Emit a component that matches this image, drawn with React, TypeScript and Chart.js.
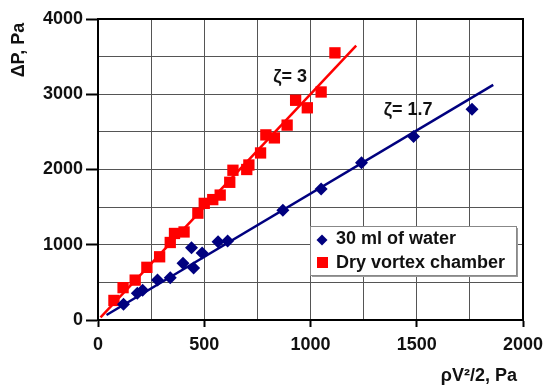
import { useEffect, useRef } from "react";
import { Chart, registerables } from "chart.js";
Chart.register(...registerables);

const dryX = [75, 118, 175, 230, 290, 340, 360, 405, 470, 500, 540, 575, 620, 635, 700, 710, 765, 790, 830, 890, 930, 985, 1050, 1115];
const dryY = [260, 430, 530, 700, 840, 1030, 1150, 1170, 1420, 1550, 1600, 1660, 1830, 1990, 2000, 2060, 2220, 2460, 2420, 2590, 2920, 2820, 3030, 3550];
const waterX = [120, 185, 210, 280, 340, 400, 440, 450, 490, 565, 610, 870, 1050, 1240, 1485, 1760];
const waterY = [210, 355, 395, 530, 560, 755, 960, 690, 890, 1040, 1050, 1460, 1740, 2090, 2440, 2800];
const dryFitX = [12, 1215];
const dryFitY = [36, 3645];
const waterFitX = [40, 1860];
const waterFitY = [67, 3125];
const xTicks = [0, 500, 1000, 1500, 2000];
const yTicks = [0, 1000, 2000, 3000, 4000];
const legendLabels = ["30 ml of water", "Dry vortex chamber"];
const annotations = [
  { text: "ζ= 3", x: 904, y: 3227 },
  { text: "ζ= 1.7", x: 1459, y: 2789 },
];

const FONT = "'Liberation Sans', Arial, sans-serif";
const NAVY = "#00007f";
const RED = "#ff0000";
const GRID = "#555";

const pts = (xs: number[], ys: number[]) => xs.map((x, i) => ({ x, y: ys[i] }));

const overlay = {
  id: "overlay",
  beforeDatasetsDraw(chart: any) {
    const { ctx, chartArea: a } = chart;
    ctx.save();
    ctx.strokeStyle = "#000";
    ctx.lineWidth = 2;
    ctx.strokeRect(a.left, a.top, a.right - a.left, a.bottom - a.top);
    ctx.restore();
  },
  afterDraw(chart: any) {
    const { ctx, chartArea: a, scales } = chart;
    ctx.save();
    ctx.fillStyle = "#111";
    ctx.font = `bold 18px ${FONT}`;
    ctx.textAlign = "center";
    ctx.textBaseline = "middle";
    for (const an of annotations) {
      ctx.fillText(an.text, scales.x.getPixelForValue(an.x), scales.y.getPixelForValue(an.y));
    }
    ctx.font = `bold 18px ${FONT}`;
    ctx.save();
    ctx.translate(19, 50);
    ctx.rotate(-Math.PI / 2);
    ctx.fillText("ΔP, Pa", 0, 0);
    ctx.restore();
    ctx.textAlign = "right";
    ctx.fillText("ρV²/2, Pa", 517, 376);
    // legend
    const lx = a.left + 212;
    const ly = a.top + 207;
    const lw = 206;
    const lh = 49;
    ctx.fillStyle = "#999";
    ctx.fillRect(lx + 2, ly + 2, lw, lh);
    ctx.fillStyle = "#fff";
    ctx.fillRect(lx, ly, lw, lh);
    ctx.strokeStyle = "#888";
    ctx.lineWidth = 1;
    ctx.strokeRect(lx + 0.5, ly + 0.5, lw, lh);
    const dx = lx + 12, dy = ly + 14;
    ctx.fillStyle = NAVY;
    ctx.beginPath();
    ctx.moveTo(dx, dy - 5.5);
    ctx.lineTo(dx + 5.5, dy);
    ctx.lineTo(dx, dy + 5.5);
    ctx.lineTo(dx - 5.5, dy);
    ctx.closePath();
    ctx.fill();
    ctx.fillStyle = RED;
    ctx.fillRect(lx + 7, ly + 31, 11, 11);
    ctx.fillStyle = "#111";
    ctx.textAlign = "left";
    ctx.font = `bold 18px ${FONT}`;
    ctx.fillText(legendLabels[0], lx + 26, ly + 13);
    ctx.fillText(legendLabels[1], lx + 26, ly + 37);
    ctx.restore();
  },
};

export default function App() {
  const ref = useRef<HTMLCanvasElement>(null);
  useEffect(() => {
    if (!ref.current) return;
    const tickFont = { family: FONT, size: 18, weight: "bold" as const };
    const chart = new Chart(ref.current, {
      type: "scatter",
      data: {
        datasets: [
          {
            type: "line",
            label: "fit3",
            data: pts(dryFitX, dryFitY),
            borderColor: RED,
            borderWidth: 2.5,
            pointRadius: 0,
            order: 0,
          } as any,
          {
            type: "line",
            label: "fit17",
            data: pts(waterFitX, waterFitY),
            borderColor: NAVY,
            borderWidth: 2.5,
            pointRadius: 0,
            order: 0,
          } as any,
          {
            label: legendLabels[0],
            data: pts(waterX, waterY),
            pointStyle: "rectRot",
            pointRadius: 6.5,
            backgroundColor: NAVY,
            borderColor: NAVY,
            borderWidth: 0,
            order: 1,
          },
          {
            label: legendLabels[1],
            data: pts(dryX, dryY),
            pointStyle: "rect",
            pointRadius: 8,
            backgroundColor: RED,
            borderColor: RED,
            borderWidth: 0,
            order: 1,
          },
        ],
      },
      options: {
        animation: false,
        responsive: true,
        maintainAspectRatio: false,
        layout: { padding: { top: 19, right: 21, left: 0, bottom: 0 } },
        plugins: { legend: { display: false }, tooltip: { enabled: false } },
        scales: {
          x: {
            type: "linear",
            min: 0,
            max: 2000,
            afterBuildTicks: (s: any) => { s.ticks = xTicks.map((v) => ({ value: v })); },
            ticks: { font: tickFont, color: "#111", padding: 7, callback: (v: any) => String(v) },
            grid: { drawOnChartArea: false, tickLength: 7, tickColor: "#000", tickWidth: 2 },
            border: { color: "#000", width: 2 },
            afterFit: (s: any) => { s.height = 68; s.paddingRight = 0; s.paddingLeft = 0; },
          },
          x2: {
            type: "linear",
            position: "bottom",
            min: 0,
            max: 2000,
            ticks: { display: false, stepSize: 250 },
            grid: { drawTicks: false, color: GRID, lineWidth: 1 },
            border: { display: false },
            afterFit: (s: any) => { s.height = 0; s.paddingRight = 0; s.paddingLeft = 0; },
          },
          y: {
            type: "linear",
            min: 0,
            max: 4000,
            afterBuildTicks: (s: any) => { s.ticks = yTicks.map((v) => ({ value: v })); },
            ticks: { font: tickFont, color: "#111", padding: 3, callback: (v: any) => String(v) },
            grid: { drawOnChartArea: false, tickLength: 12, tickColor: "#000", tickWidth: 2 },
            border: { color: "#000", width: 2 },
            afterFit: (s: any) => { s.width = 98; s.paddingTop = 0; s.paddingBottom = 0; },
          },
          y2: {
            type: "linear",
            position: "left",
            min: 0,
            max: 4000,
            ticks: { display: false, stepSize: 500 },
            grid: { drawTicks: false, color: GRID, lineWidth: 1 },
            border: { display: false },
            afterFit: (s: any) => { s.width = 0; s.paddingTop = 0; s.paddingBottom = 0; },
          },
        },
      },
      plugins: [overlay],
    });
    return () => chart.destroy();
  }, []);
  return (
    <div style={{ position: "absolute", left: 0, top: 0, width: 544, height: 388, background: "#fff" }}>
      <canvas ref={ref} />
    </div>
  );
}
